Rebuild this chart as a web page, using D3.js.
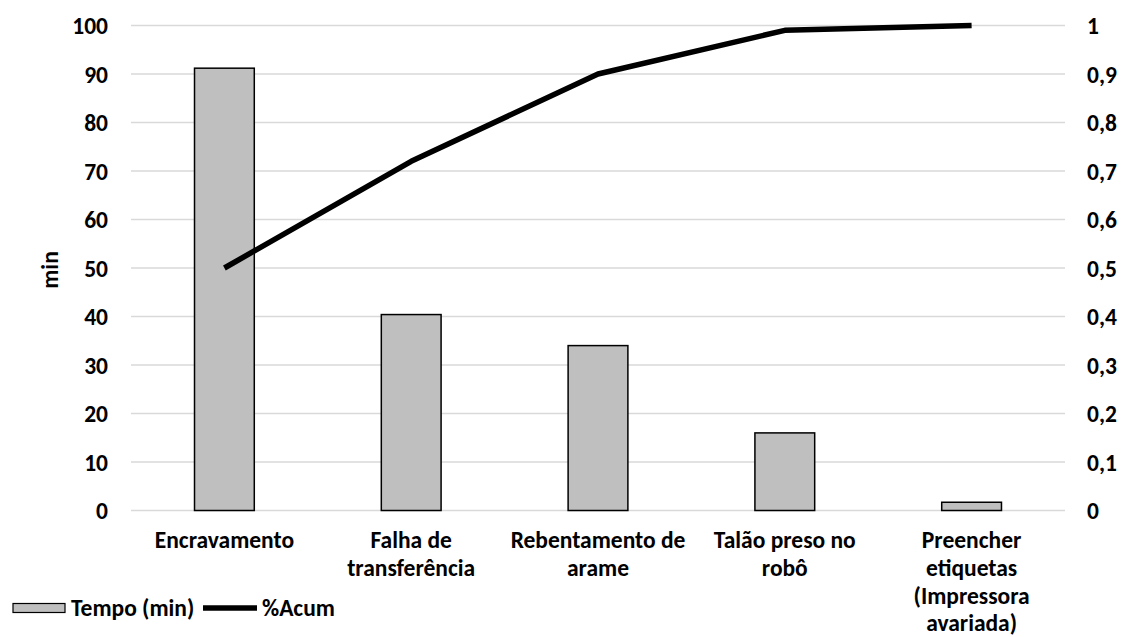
<!DOCTYPE html>
<html>
<head>
<meta charset="utf-8">
<script src="https://cdn.jsdelivr.net/npm/d3@7"></script>
<style>
  html, body { margin: 0; padding: 0; background: #fff; }
  svg text { font-family: Carlito, Calibri, Lato, "Open Sans", sans-serif; font-weight: bold; fill: #000; }
</style>
</head>
<body>
<svg id="chart" width="1121" height="637"></svg>
<script>
// Downtime causes (minutes) and cumulative share
const categories = [
  ["Encravamento"],
  ["Falha de", "transferência"],
  ["Rebentamento de", "arame"],
  ["Talão preso no", "robô"],
  ["Preencher", "etiquetas", "(Impressora", "avariada)"]
];
const tempoMin = [91.2, 40.4, 34, 16, 1.7];
const acumulado = [0.5, 0.72, 0.9, 0.99, 1.0];
const leftTicks = [0, 10, 20, 30, 40, 50, 60, 70, 80, 90, 100];
const rightTicks = [0, 0.1, 0.2, 0.3, 0.4, 0.5, 0.6, 0.7, 0.8, 0.9, 1];

const FS = 23.5;
const svg = d3.select("#chart");
const plot = { left: 131, right: 1065, top: 25.5, bottom: 510.5 };

const x = d3.scaleBand()
  .domain(categories.map((d, i) => i))
  .range([plot.left, plot.right])
  .paddingInner(0.68)
  .paddingOuter(0.34);

const yL = d3.scaleLinear().domain([0, 100]).range([plot.bottom, plot.top]);
const yR = d3.scaleLinear().domain([0, 1]).range([plot.bottom, plot.top]);

// gridlines
svg.append("g")
  .selectAll("line")
  .data(leftTicks)
  .join("line")
  .attr("x1", plot.left).attr("x2", plot.right)
  .attr("y1", d => yL(d)).attr("y2", d => yL(d))
  .attr("stroke", "#d9d9d9").attr("stroke-width", 1.3);

// left axis
const leftAxis = svg.append("g")
  .attr("transform", `translate(108,0)`)
  .call(d3.axisLeft(yL).tickValues(leftTicks).tickSize(0).tickPadding(0).tickFormat(d3.format("d")));
leftAxis.select(".domain").remove();
leftAxis.selectAll("text").attr("font-size", FS).attr("dy", "0.35em");

// right axis
const commaFmt = d => d === 0 ? "0" : d === 1 ? "1" : String(d).replace(".", ",");
const rightAxis = svg.append("g")
  .attr("transform", `translate(1087,0)`)
  .call(d3.axisRight(yR).tickValues(rightTicks).tickSize(0).tickPadding(0).tickFormat(commaFmt));
rightAxis.select(".domain").remove();
rightAxis.selectAll("text").attr("font-size", FS).attr("dy", "0.35em");

// y axis title
svg.append("text")
  .attr("transform", `translate(58,270) rotate(-90)`)
  .attr("text-anchor", "middle")
  .attr("font-size", FS)
  .text("min");

// bars
svg.append("g")
  .selectAll("rect")
  .data(tempoMin)
  .join("rect")
  .attr("x", (d, i) => x(i))
  .attr("width", x.bandwidth())
  .attr("y", d => yL(d))
  .attr("height", d => yL(0) - yL(d))
  .attr("fill", "#bfbfbf")
  .attr("stroke", "#000")
  .attr("stroke-width", 1.5);

// cumulative line
const line = d3.line()
  .x((d, i) => x(i) + x.bandwidth() / 2)
  .y(d => yR(d));
svg.append("path")
  .datum(acumulado)
  .attr("d", line)
  .attr("fill", "none")
  .attr("stroke", "#000")
  .attr("stroke-width", 5.5)
  .attr("stroke-linejoin", "round");

// category labels
const catG = svg.append("g");
categories.forEach((lines, i) => {
  const t = catG.append("text")
    .attr("text-anchor", "middle")
    .attr("font-size", FS)
    .attr("x", x(i) + x.bandwidth() / 2)
    .attr("y", 548);
  lines.forEach((ln, j) => {
    t.append("tspan")
      .attr("x", x(i) + x.bandwidth() / 2)
      .attr("dy", j === 0 ? 0 : 27.8)
      .text(ln);
  });
});

// legend
const lg = svg.append("g");
lg.append("rect")
  .attr("x", 13).attr("y", 603.5).attr("width", 52).attr("height", 9)
  .attr("fill", "#bfbfbf").attr("stroke", "#000").attr("stroke-width", 1.2);
lg.append("text").attr("x", 71).attr("y", 616).attr("font-size", FS).text("Tempo (min)");
lg.append("line")
  .attr("x1", 203).attr("x2", 257).attr("y1", 608).attr("y2", 608)
  .attr("stroke", "#000").attr("stroke-width", 5.5);
lg.append("text").attr("x", 262).attr("y", 616).attr("font-size", FS).text("%Acum");
</script>
</body>
</html>
